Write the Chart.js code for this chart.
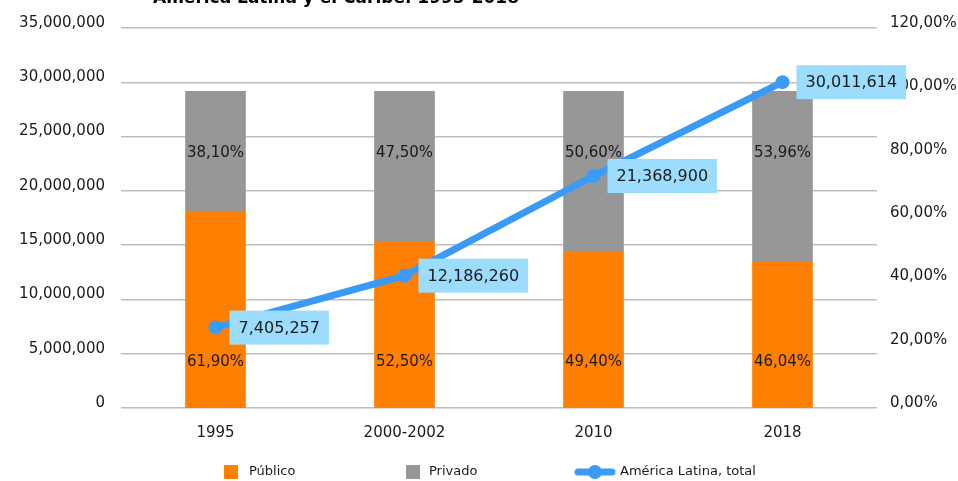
<!DOCTYPE html>
<html>
<head>
<meta charset="utf-8">
<script src="https://cdn.jsdelivr.net/npm/chart.js@4.4.1/dist/chart.umd.min.js"></script>
<style>
  html, body { margin: 0; padding: 0; background: #fff; }
  #wrap { width: 958px; height: 481px; }
</style>
</head>
<body>
<div id="wrap"><canvas id="chart" width="958" height="481"></canvas></div>
<script>
"use strict";

const categories = ["1995", "2000-2002", "2010", "2018"];
const publicoPct = [61.90, 52.50, 49.40, 46.04];
const privadoPct = [38.10, 47.50, 50.60, 53.96];
const totalAL = [7405257, 12186260, 21368900, 30011614];
const seriesNames = ["Público", "Privado", "América Latina, total"];
const titleText = "América Latina y el Caribe. 1995-2018";

const FONT = "'DejaVu Sans', sans-serif";
const ORANGE = "#ff8000";
const GREY = "#979797";
const BLUE = "#3a9bf6";
const BOX = "#9cdcff";

function fmtPct(v) {
    return v.toFixed(2).replace(".", ",") + "%";
}
function fmtNum(v) {
    return v.toLocaleString("en-US");
}

// title is cut off by the top of the picture, only its lower edge shows
const titlePlugin = {
    id: "cutTitle",
    afterDraw(chart) {
        const c = chart.ctx;
        c.save();
        c.font = "bold 17px " + FONT;
        c.fillStyle = "#000";
        c.textAlign = "center";
        c.textBaseline = "alphabetic";
        c.fillText(titleText, 336, 3);
        c.restore();
    }
};

const labelPlugin = {
    id: "valueLabels",
    afterDatasetsDraw(chart) {
        const c = chart.ctx;
        c.save();
        // percent labels in the bars
        c.font = "15px " + FONT;
        c.fillStyle = "#1a1a1a";
        c.textAlign = "center";
        c.textBaseline = "middle";
        const pubMeta = chart.getDatasetMeta(0);
        const priMeta = chart.getDatasetMeta(1);
        pubMeta.data.forEach((bar, i) => {
            c.fillText(fmtPct(publicoPct[i]), bar.x, bar.base - 46);
        });
        priMeta.data.forEach((bar, i) => {
            c.fillText(fmtPct(privadoPct[i]), bar.x, bar.y + 62);
        });
        // boxed labels for the line
        const lineMeta = chart.getDatasetMeta(2);
        c.font = "16px " + FONT;
        c.textAlign = "left";
        lineMeta.data.forEach((pt, i) => {
            const txt = fmtNum(totalAL[i]);
            const w = c.measureText(txt).width + 18;
            const h = 34;
            const x = pt.x + 14;
            const y = pt.y - h / 2;
            c.fillStyle = BOX;
            c.fillRect(x, y, w, h);
            c.fillStyle = "#1a1a1a";
            c.fillText(txt, x + 9, pt.y + 1);
        });
        c.restore();
    }
};

const legendPlugin = {
    id: "bottomLegend",
    afterDraw(chart) {
        const c = chart.ctx;
        const cy = 472;
        c.save();
        c.font = "13px " + FONT;
        c.textBaseline = "middle";
        c.textAlign = "left";
        c.fillStyle = ORANGE;
        c.fillRect(224, cy - 7, 14, 14);
        c.fillStyle = "#1a1a1a";
        c.fillText(seriesNames[0], 249, cy);
        c.fillStyle = GREY;
        c.fillRect(406, cy - 7, 14, 14);
        c.fillStyle = "#1a1a1a";
        c.fillText(seriesNames[1], 429, cy);
        c.strokeStyle = BLUE;
        c.lineWidth = 7;
        c.lineCap = "round";
        c.beginPath();
        c.moveTo(578, cy);
        c.lineTo(612, cy);
        c.stroke();
        c.fillStyle = BLUE;
        c.beginPath();
        c.arc(595, cy, 7, 0, Math.PI * 2);
        c.fill();
        c.fillStyle = "#1a1a1a";
        c.fillText(seriesNames[2], 620, cy);
        c.restore();
    }
};

const ctx = document.getElementById("chart");
new Chart(ctx, {
    data: {
        labels: categories,
        datasets: [
            {
                type: "bar",
                label: seriesNames[0],
                data: publicoPct,
                backgroundColor: ORANGE,
                yAxisID: "y1",
                order: 1,
                barThickness: 60
            },
            {
                type: "bar",
                label: seriesNames[1],
                data: privadoPct,
                backgroundColor: GREY,
                yAxisID: "y1",
                order: 1,
                barThickness: 60
            },
            {
                type: "line",
                label: seriesNames[2],
                data: totalAL,
                borderColor: BLUE,
                backgroundColor: BLUE,
                borderWidth: 7,
                pointRadius: 7,
                pointHoverRadius: 7,
                pointBorderWidth: 0,
                yAxisID: "y",
                order: 0
            }
        ]
    },
    options: {
        responsive: false,
        animation: false,
        devicePixelRatio: 1,
        layout: { padding: { top: 28, bottom: 0, left: 0, right: 0 } },
        plugins: {
            legend: { display: false },
            tooltip: { enabled: false },
            title: { display: false }
        },
        scales: {
            x: {
                stacked: true,
                grid: { display: false, drawTicks: false },
                border: { display: false },
                ticks: {
                    color: "#1a1a1a",
                    font: { family: FONT, size: 15 },
                    padding: 16,
                    maxRotation: 0
                },
                afterFit(scale) { scale.height = 73; }
            },
            y: {
                position: "left",
                min: 0,
                max: 35000000,
                grid: { color: "#bdbdbd", lineWidth: 1.5, drawTicks: false },
                border: { display: false },
                ticks: {
                    stepSize: 5000000,
                    color: "#1a1a1a",
                    font: { family: FONT, size: 15 },
                    padding: 16,
                    labelOffset: -5,
                    callback: (v) => fmtNum(v)
                },
                afterFit(scale) { scale.width = 121; }
            },
            y1: {
                position: "right",
                stacked: true,
                min: 0,
                max: 120,
                grid: { display: false, drawTicks: false },
                border: { display: false },
                ticks: {
                    stepSize: 20,
                    color: "#1a1a1a",
                    font: { family: FONT, size: 15 },
                    padding: 13,
                    labelOffset: -5,
                    callback: (v) => fmtPct(v)
                },
                afterFit(scale) { scale.width = 81; }
            }
        }
    },
    plugins: [labelPlugin, legendPlugin, titlePlugin]
});
</script>
</body>
</html>
